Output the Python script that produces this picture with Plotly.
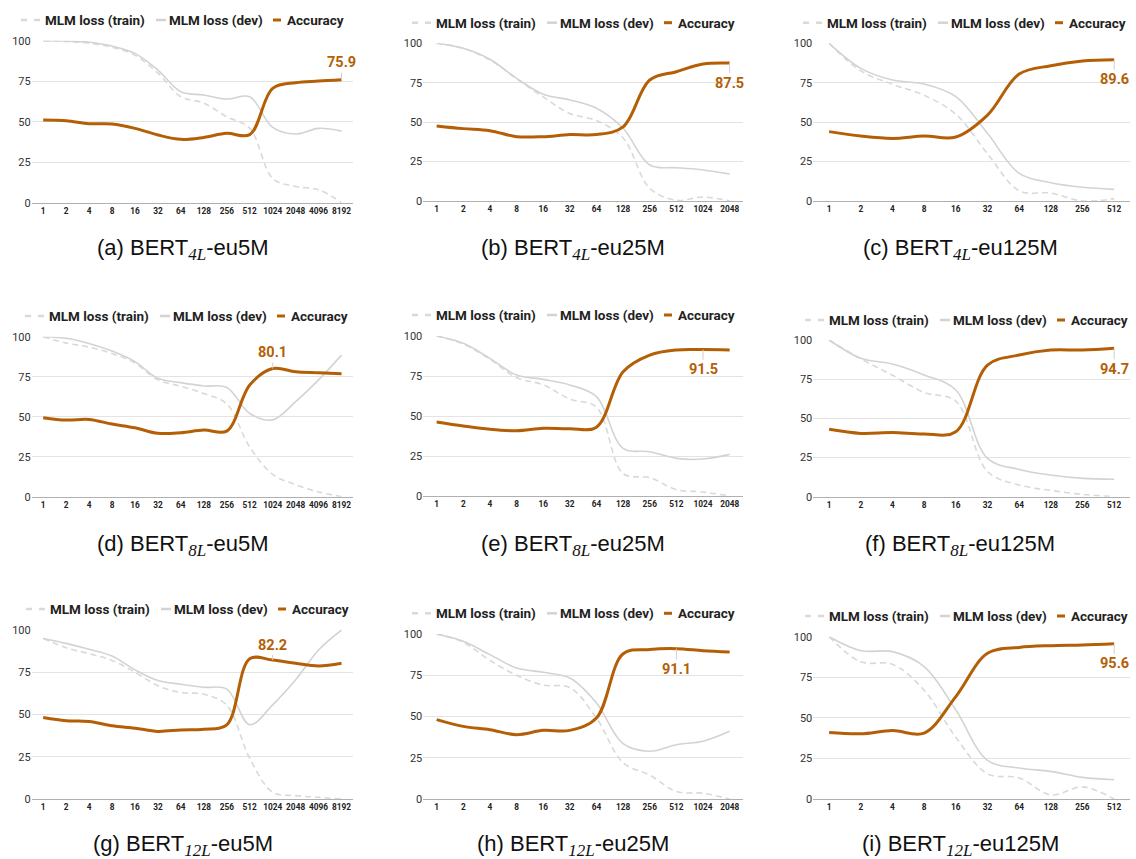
import plotly.graph_objects as go

# ---------------- data ----------------
X5M = ["1", "2", "4", "8", "16", "32", "64", "128", "256", "512", "1024", "2048", "4096", "8192"]
X25M = ["1", "2", "4", "8", "16", "32", "64", "128", "256", "512", "1024", "2048"]
X125M = ["1", "2", "4", "8", "16", "32", "64", "128", "256", "512"]

acc_a = [51.0, 50.6, 48.8, 48.6, 45.9, 41.8, 39.1, 40.3, 42.8, 42.0, 70.6, 74.1, 75.1, 75.9]
dev_a = [100, 99.8, 99.0, 96.7, 92.2, 81.9, 68.5, 66.5, 64.0, 65.4, 46.5, 42.4, 45.9, 44.2]
train_a = [100, 99.5, 98.5, 96.0, 91.0, 80.0, 65.4, 61.5, 53.0, 46.0, 15.0, 10.0, 8.0, 0.0]

acc_b = [47.6, 45.9, 44.6, 40.8, 40.8, 42.1, 42.1, 47.0, 76.7, 82.0, 86.9, 87.5]
dev_b = [100, 96.8, 89.9, 77.8, 67.7, 64.1, 58.8, 46.1, 22.8, 21.1, 19.7, 17.1]
train_b = [100, 96.8, 89.5, 77.5, 66.0, 55.5, 51.0, 40.0, 8.0, 0.5, 2.5, 0.0]

acc_c = [44.0, 41.2, 39.7, 41.2, 40.6, 54.5, 80.5, 85.8, 88.8, 89.6]
dev_c = [100, 84.1, 76.7, 74.2, 66.2, 42.9, 17.5, 11.6, 8.7, 7.4]
train_c = [100, 82.5, 74.0, 67.0, 55.0, 30.0, 6.5, 5.0, 0.0, 1.5]

acc_d = [49.4, 47.9, 48.3, 45.4, 43.1, 39.6, 40.0, 41.7, 41.0, 69.8, 80.1, 78.1, 77.5, 76.9]
dev_d = [100, 99.0, 95.8, 91.0, 84.4, 74.0, 71.3, 69.2, 68.3, 52.0, 48.0, 59.4, 73.0, 88.5]
train_d = [100, 96.0, 93.5, 89.5, 83.5, 73.0, 69.0, 64.5, 58.0, 31.0, 14.0, 7.5, 3.0, 0.0]

acc_e = [46.3, 43.8, 41.7, 40.8, 42.3, 42.1, 43.0, 77.7, 88.1, 91.3, 91.5, 91.3]
dev_e = [100, 95.4, 86.0, 75.6, 72.9, 69.4, 62.1, 29.8, 27.7, 23.5, 23.1, 26.0]
train_e = [100, 95.0, 85.5, 74.0, 69.5, 60.5, 55.5, 14.0, 11.5, 4.0, 2.5, 0.0]

acc_f = [43.0, 40.4, 40.9, 40.0, 41.5, 84.0, 90.4, 93.6, 93.6, 94.7]
dev_f = [100, 88.3, 84.7, 77.7, 68.1, 24.5, 17.4, 13.8, 11.7, 11.1]
train_f = [100, 88.0, 77.5, 66.5, 61.0, 16.0, 7.5, 4.0, 1.5, 0.0]

acc_g = [48.2, 46.3, 45.9, 43.3, 41.9, 40.0, 40.9, 41.3, 43.9, 83.0, 82.2, 80.3, 78.7, 80.3]
dev_g = [95.0, 92.1, 88.6, 84.6, 76.4, 70.1, 67.9, 66.1, 65.0, 44.0, 55.7, 70.5, 88.2, 100]
train_g = [95.0, 89.5, 86.0, 82.0, 75.0, 67.0, 63.0, 62.0, 55.5, 24.0, 4.0, 2.0, 1.0, 0.0]

acc_h = [48.1, 44.0, 42.0, 39.0, 41.6, 41.6, 49.1, 88.0, 90.6, 91.1, 89.9, 89.1]
dev_h = [100, 95.6, 87.5, 79.4, 76.8, 73.3, 58.2, 33.5, 28.9, 32.9, 35.0, 41.0]
train_h = [100, 95.0, 84.0, 75.0, 69.0, 67.5, 49.0, 22.0, 14.5, 4.5, 3.5, 0.0]

acc_i = [41.0, 40.2, 42.2, 40.6, 63.1, 89.8, 93.4, 94.5, 94.9, 95.6]
dev_i = [100, 91.4, 90.8, 81.6, 54.9, 23.8, 19.1, 17.0, 13.3, 11.9]
train_i = [100, 84.5, 83.0, 67.0, 38.0, 15.5, 13.0, 2.5, 7.5, 0.0]

captions = [
    ("a", "4L", "eu5M"), ("b", "4L", "eu25M"), ("c", "4L", "eu125M"),
    ("d", "8L", "eu5M"), ("e", "8L", "eu25M"), ("f", "8L", "eu125M"),
    ("g", "12L", "eu5M"), ("h", "12L", "eu25M"), ("i", "12L", "eu125M"),
]
# index of the accuracy point that carries the value label
label_idx = [13, 11, 9, 10, 10, 9, 10, 9, 9]

series_names = ["MLM loss (train)", "MLM loss (dev)", "Accuracy"]
y_ticks = [0, 25, 50, 75, 100]

panels = [
    (X5M, train_a, dev_a, acc_a), (X25M, train_b, dev_b, acc_b), (X125M, train_c, dev_c, acc_c),
    (X5M, train_d, dev_d, acc_d), (X25M, train_e, dev_e, acc_e), (X125M, train_f, dev_f, acc_f),
    (X5M, train_g, dev_g, acc_g), (X25M, train_h, dev_h, acc_h), (X125M, train_i, dev_i, acc_i),
]

# ---------------- layout geometry (pixels) ----------------
W, H = 1136, 859
# plot area: x0, x1, ytop, ybottom
geom = [
    (31.7, 353, 40.7, 202.7), (423.3, 743, 43.3, 201), (813.3, 1130, 43.3, 201),
    (31.7, 353, 336.7, 496.7), (423.3, 743, 336, 496), (813.3, 1130, 340, 496.7),
    (31.7, 353, 630, 799), (423.3, 743, 634, 799), (813.3, 1130, 636.7, 799),
]
# legend start x, center y
leg_pos = [(21, 20), (412, 22.7), (803, 22.7), (25, 316), (412, 315), (805, 320),
           (26, 609), (412, 613.3), (805, 616)]
# caption center x, y
cap_pos = [(183, 249), (573, 249), (960, 249), (183, 545), (573, 545), (960, 545),
           (183, 845), (573, 845), (960, 845)]
# label offset (px, negative = above)
label_ay = [-17, 20, 20, -16, 20, 21, -15, 21, 20]

ORANGE = "#b45f06"
TRAIN_C = "#d9d9d9"
DEV_C = "#d3d3d3"
GRID_C = "#e3e3e3"
BASE_C = "#b0b0b0"


def px(x):
    return x / W


def py(y):
    return 1 - y / H


fig = go.Figure()
annotations = []
shapes = []
layout = {}

for k, ((xs, tr, dv, ac), (x0, x1, yt, yb)) in enumerate(zip(panels, geom)):
    n = k + 1
    xa = "x" if n == 1 else f"x{n}"
    ya = "y" if n == 1 else f"y{n}"
    fig.add_trace(go.Scatter(x=xs, y=tr, xaxis=xa, yaxis=ya, mode="lines", name=series_names[0],
                             line=dict(color=TRAIN_C, width=1.6, dash="6px,4px", shape="spline", smoothing=1.0)))
    fig.add_trace(go.Scatter(x=xs, y=dv, xaxis=xa, yaxis=ya, mode="lines", name=series_names[1],
                             line=dict(color=DEV_C, width=1.6, shape="spline", smoothing=1.0)))
    fig.add_trace(go.Scatter(x=xs, y=ac, xaxis=xa, yaxis=ya, mode="lines", name=series_names[2],
                             line=dict(color=ORANGE, width=3, shape="spline", smoothing=1.0)))
    xkey = "xaxis" if n == 1 else f"xaxis{n}"
    ykey = "yaxis" if n == 1 else f"yaxis{n}"
    layout[xkey] = dict(domain=[px(x0), px(x1)], anchor=ya, type="category",
                        categoryorder="array", categoryarray=xs, automargin=False,
                        range=[-0.5, len(xs) - 0.5], showgrid=False, zeroline=False,
                        showline=True, linecolor=BASE_C, linewidth=1, ticks="",
                        tickfont=dict(family="Roboto", size=8.3, color="#222", weight="bold"),
                        fixedrange=True)
    layout[ykey] = dict(domain=[py(yb), py(yt)], anchor=xa, range=[0, 100], automargin=False,
                        tickvals=y_ticks, showgrid=True, gridcolor=GRID_C, gridwidth=1,
                        zeroline=False, showline=False, ticks="",
                        tickfont=dict(family="Roboto", size=11, color="#333"),
                        fixedrange=True)

    # value label with leader line
    li = label_idx[k]
    annotations.append(dict(x=li, y=ac[li], xref=xa, yref=ya, text=f"{ac[li]:.1f}",
                            showarrow=True, arrowhead=0, arrowwidth=1, arrowcolor="#cfcfcf",
                            ax=0, ay=label_ay[k], standoff=0,
                            font=dict(family="Roboto", size=14.5, color=ORANGE, weight="bold")))

    # custom legend
    lx, ly = leg_pos[k]
    yy = py(ly)
    shapes.append(dict(type="line", xref="paper", yref="paper", x0=px(lx), x1=px(lx + 19), y0=yy, y1=yy,
                       line=dict(color=TRAIN_C, width=2.5, dash="6px,7px")))
    shapes.append(dict(type="line", xref="paper", yref="paper", x0=px(lx + 135), x1=px(lx + 145), y0=yy, y1=yy,
                       line=dict(color=DEV_C, width=2.5)))
    shapes.append(dict(type="line", xref="paper", yref="paper", x0=px(lx + 252), x1=px(lx + 260), y0=yy, y1=yy,
                       line=dict(color=ORANGE, width=3)))
    for off, name in zip([22, 146, 264], series_names):
        annotations.append(dict(x=px(lx + off), y=yy, xref="paper", yref="paper", text=name,
                                showarrow=False, xanchor="left", yanchor="middle",
                                font=dict(family="Roboto", size=13.5, color="#222", weight="bold")))

    # caption
    letter, sub, suffix = captions[k]
    cx, cy = cap_pos[k]
    cap = (f"({letter}) BERT<sub><i><span style=\"font-family:'Liberation Serif';font-size:17px\">"
           f"{sub}</span></i></sub>-{suffix}")
    annotations.append(dict(x=px(cx), y=py(cy), xref="paper", yref="paper", text=cap,
                            showarrow=False, xanchor="center", yanchor="middle",
                            font=dict(family="Liberation Sans", size=22, color="#111")))

fig.update_layout(**layout)
fig.update_layout(width=W, height=H, margin=dict(l=0, r=0, t=0, b=0, autoexpand=False),
                  paper_bgcolor="white", plot_bgcolor="white", showlegend=False,
                  annotations=annotations, shapes=shapes)

fig.write_html("out.html", config={"displayModeBar": False},
               post_script="document.body.style.margin='0';")
